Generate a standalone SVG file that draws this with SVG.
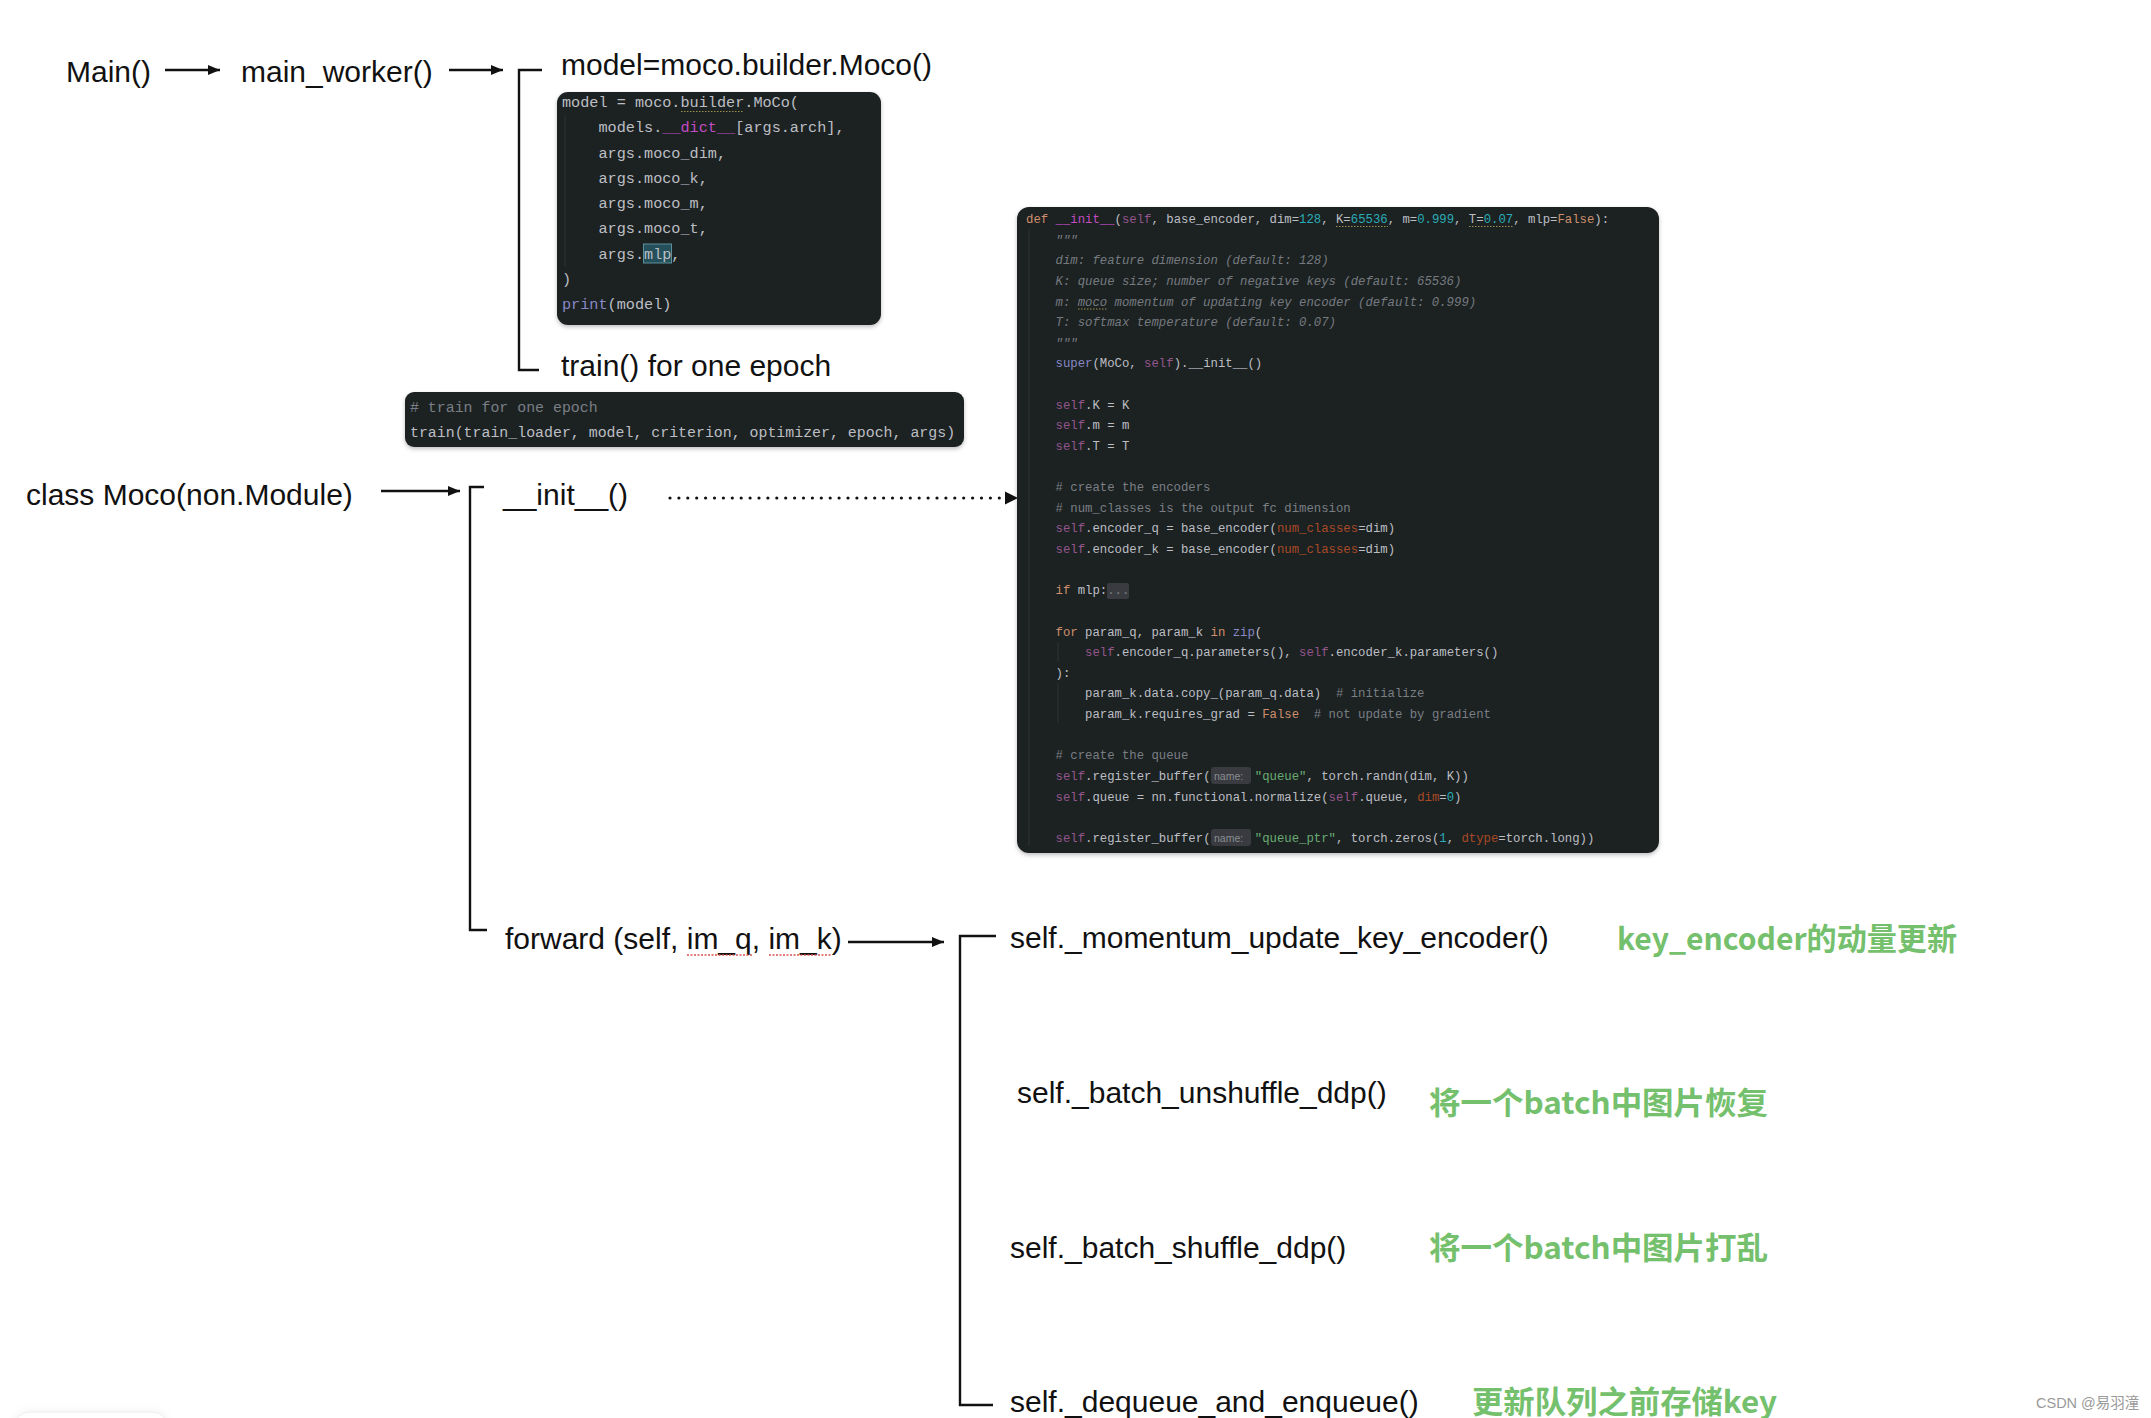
<svg xmlns="http://www.w3.org/2000/svg" width="2151" height="1418" viewBox="0 0 2151 1418">
  <style>
    .lbl { font-family: "Liberation Sans", Arial, sans-serif; font-size: 30px; fill: #111; }
    .cn { font-family: "Noto Sans CJK SC", "Liberation Sans", sans-serif; font-size: 31px; font-weight: 700; fill: #74c06d; }
    .code { font-family: "Liberation Mono", "DejaVu Sans Mono", monospace; fill: #bcbec4; white-space: pre; }
    .c1 { font-size: 15.2px; }
    .c2 { font-size: 14.9px; }
    .c3 { font-size: 12.3px; }
    .kw { fill: #cf8e6d; }
    .dun { fill: #c14cc1; }
    .slf { fill: #94558d; }
    .num { fill: #2aacb8; }
    .doc { fill: #767a80; font-style: italic; }
    .cmt { fill: #7a7e85; }
    .bi { fill: #8888c6; }
    .prm { fill: #aa4926; }
    .str { fill: #6aab73; }
    .box { fill: #1f2023; }
    .hint { fill: #393b40; }
    .hintt { font-family: "Liberation Sans", Arial, sans-serif; font-size: 10.5px; fill: #8a8d93; }
    .ln { stroke: #111; stroke-width: 2.6; fill: none; }
    .br { stroke: #111; stroke-width: 2.4; fill: none; }
    .guide { stroke: #2f3136; stroke-width: 1; }
    .wavy { stroke: #9a8f4e; stroke-width: 1; fill: none; stroke-dasharray: 1.5 1.5; }
    .red { stroke: #d9534f; stroke-width: 1.3; fill: none; stroke-dasharray: 2 1.5; }
  </style>
  <defs>
    <marker id="ah" viewBox="0 0 12 10" refX="12" refY="5" markerWidth="12" markerHeight="10" markerUnits="userSpaceOnUse" orient="auto">
      <path d="M0,0 L12,5 L0,10 z" fill="#111"/>
    </marker>
    <filter id="sh" x="-5%" y="-5%" width="110%" height="115%">
      <feDropShadow dx="0" dy="2" stdDeviation="2" flood-color="#000" flood-opacity="0.25"/>
    </filter>
    <filter id="soft" x="-20%" y="-50%" width="140%" height="200%">
      <feDropShadow dx="0" dy="0" stdDeviation="5" flood-color="#000" flood-opacity="0.06"/>
    </filter>
  </defs>

  <rect width="2151" height="1418" fill="#ffffff"/>

  <!-- connectors -->
  <g id="connectors">
    <line class="ln" x1="165" y1="70" x2="220" y2="70" marker-end="url(#ah)"/>
    <line class="ln" x1="449" y1="70" x2="503" y2="70" marker-end="url(#ah)"/>
    <path class="br" d="M542,70 H519 V370 H539"/>
    <line class="ln" x1="381" y1="491" x2="460" y2="491" marker-end="url(#ah)"/>
    <path class="br" d="M484,487 H470 V930 H487"/>
    <line x1="670" y1="498" x2="1005" y2="498" stroke="#111" stroke-width="3.2" stroke-linecap="round" stroke-dasharray="0 8.9"/>
    <path d="M1005,491.5 L1018,498 L1005,504.5 z" fill="#111"/>
    <line class="ln" x1="848" y1="942" x2="944" y2="942" marker-end="url(#ah)"/>
    <path class="br" d="M996,936 H960 V1405 H993"/>
  </g>

  <!-- nodes -->
  <g id="node-main"><text class="lbl" x="66" y="82">Main()</text></g>
  <g id="node-main-worker"><text class="lbl" x="241" y="82">main_worker()</text></g>
  <g id="node-model"><text class="lbl" x="561" y="75">model=moco.builder.Moco()</text></g>

  <g id="node-code-model" filter="url(#sh)">
    <rect class="box" x="557" y="92" width="324" height="233" rx="11"/>
  </g>
  <g id="code-model-text">
    <line class="guide" x1="565" y1="115" x2="565" y2="266"/>
    <rect x="643.5" y="244" width="28" height="19" fill="#25505b" stroke="#5b8f99" stroke-width="1"/>
    <path class="wavy" d="M681,111.5 H744"/>
    <text class="code c1" xml:space="preserve" x="562" y="107">model = moco.builder.MoCo(</text>
    <text class="code c1" xml:space="preserve" x="562" y="132.25">    models.<tspan class="dun">__dict__</tspan>[args.arch],</text>
    <text class="code c1" xml:space="preserve" x="562" y="157.5">    args.moco_dim,</text>
    <text class="code c1" xml:space="preserve" x="562" y="182.75">    args.moco_k,</text>
    <text class="code c1" xml:space="preserve" x="562" y="208">    args.moco_m,</text>
    <text class="code c1" xml:space="preserve" x="562" y="233.25">    args.moco_t,</text>
    <text class="code c1" xml:space="preserve" x="562" y="258.5">    args.mlp,</text>
    <text class="code c1" xml:space="preserve" x="562" y="283.75">)</text>
    <text class="code c1" xml:space="preserve" x="562" y="309"><tspan class="bi">print</tspan>(model)</text>
  </g>

  <g id="node-train"><text class="lbl" x="561" y="376">train() for one epoch</text></g>

  <g id="node-code-train" filter="url(#sh)">
    <rect class="box" x="405" y="392" width="559" height="55" rx="9"/>
  </g>
  <g id="code-train-text">
    <text class="code c2 cmt" xml:space="preserve" x="410" y="412"># train for one epoch</text>
    <text class="code c2" xml:space="preserve" x="410" y="437">train(train_loader, model, criterion, optimizer, epoch, args)</text>
  </g>

  <g id="node-class"><text class="lbl" x="26" y="505">class Moco(non.Module)</text></g>
  <g id="node-init"><text class="lbl" x="503" y="505">__init__()</text></g>

  <g id="node-code-init" filter="url(#sh)">
    <rect class="box" x="1017" y="207" width="642" height="646" rx="12"/>
  </g>
  <g id="code-init-text">
    <line class="guide" x1="1029" y1="229" x2="1029" y2="846"/>
    <line class="guide" x1="1058" y1="642" x2="1058" y2="662"/>
    <line class="guide" x1="1058" y1="683" x2="1058" y2="723"/>
    <path class="wavy" d="M1336,226.5 H1388 M1469,226.5 H1513 M1078,309 H1107"/>
    <rect class="hint" x="1107" y="583" width="22" height="16" rx="2"/>
    <rect class="hint" x="1211" y="767" width="40" height="17" rx="3"/>
    <rect class="hint" x="1211" y="829" width="40" height="17" rx="3"/>
    <text class="hintt" x="1214" y="779.5">name:</text>
    <text class="hintt" x="1214" y="841.5">name:</text>
    <text class="code c3" xml:space="preserve" x="1026" y="223"><tspan class="kw">def</tspan> <tspan class="dun">__init__</tspan>(<tspan class="slf">self</tspan>, base_encoder, dim=<tspan class="num">128</tspan>, K=<tspan class="num">65536</tspan>, m=<tspan class="num">0.999</tspan>, T=<tspan class="num">0.07</tspan>, mlp=<tspan class="kw">False</tspan>):</text>
    <text class="code c3 doc" xml:space="preserve" x="1026" y="243.63">    """</text>
    <text class="code c3 doc" xml:space="preserve" x="1026" y="264.26">    dim: feature dimension (default: 128)</text>
    <text class="code c3 doc" xml:space="preserve" x="1026" y="284.89">    K: queue size; number of negative keys (default: 65536)</text>
    <text class="code c3 doc" xml:space="preserve" x="1026" y="305.52">    m: moco momentum of updating key encoder (default: 0.999)</text>
    <text class="code c3 doc" xml:space="preserve" x="1026" y="326.15">    T: softmax temperature (default: 0.07)</text>
    <text class="code c3 doc" xml:space="preserve" x="1026" y="346.78">    """</text>
    <text class="code c3" xml:space="preserve" x="1026" y="367.41">    <tspan class="bi">super</tspan>(MoCo, <tspan class="slf">self</tspan>).__init__()</text>
    <text class="code c3" xml:space="preserve" x="1026" y="408.67">    <tspan class="slf">self</tspan>.K = K</text>
    <text class="code c3" xml:space="preserve" x="1026" y="429.3">    <tspan class="slf">self</tspan>.m = m</text>
    <text class="code c3" xml:space="preserve" x="1026" y="449.93">    <tspan class="slf">self</tspan>.T = T</text>
    <text class="code c3 cmt" xml:space="preserve" x="1026" y="491.19">    # create the encoders</text>
    <text class="code c3 cmt" xml:space="preserve" x="1026" y="511.82">    # num_classes is the output fc dimension</text>
    <text class="code c3" xml:space="preserve" x="1026" y="532.45">    <tspan class="slf">self</tspan>.encoder_q = base_encoder(<tspan class="prm">num_classes</tspan>=dim)</text>
    <text class="code c3" xml:space="preserve" x="1026" y="553.08">    <tspan class="slf">self</tspan>.encoder_k = base_encoder(<tspan class="prm">num_classes</tspan>=dim)</text>
    <text class="code c3" xml:space="preserve" x="1026" y="594.34">    <tspan class="kw">if</tspan> mlp:<tspan class="cmt">...</tspan></text>
    <text class="code c3" xml:space="preserve" x="1026" y="635.6">    <tspan class="kw">for</tspan> param_q, param_k <tspan class="kw">in</tspan> <tspan class="bi">zip</tspan>(</text>
    <text class="code c3" xml:space="preserve" x="1026" y="656.23">        <tspan class="slf">self</tspan>.encoder_q.parameters(), <tspan class="slf">self</tspan>.encoder_k.parameters()</text>
    <text class="code c3" xml:space="preserve" x="1026" y="676.86">    ):</text>
    <text class="code c3" xml:space="preserve" x="1026" y="697.49">        param_k.data.copy_(param_q.data)  <tspan class="cmt"># initialize</tspan></text>
    <text class="code c3" xml:space="preserve" x="1026" y="718.12">        param_k.requires_grad = <tspan class="kw">False</tspan>  <tspan class="cmt"># not update by gradient</tspan></text>
    <text class="code c3 cmt" xml:space="preserve" x="1026" y="759.38">    # create the queue</text>
    <text class="code c3" xml:space="preserve" x="1026" y="780.01">    <tspan class="slf">self</tspan>.register_buffer(</text>
    <text class="code c3" xml:space="preserve" x="1254.8" y="780.01"><tspan class="str">"queue"</tspan>, torch.randn(dim, K))</text>
    <text class="code c3" xml:space="preserve" x="1026" y="800.64">    <tspan class="slf">self</tspan>.queue = nn.functional.normalize(<tspan class="slf">self</tspan>.queue, <tspan class="prm">dim</tspan>=<tspan class="num">0</tspan>)</text>
    <text class="code c3" xml:space="preserve" x="1026" y="841.9">    <tspan class="slf">self</tspan>.register_buffer(</text>
    <text class="code c3" xml:space="preserve" x="1254.8" y="841.9"><tspan class="str">"queue_ptr"</tspan>, torch.zeros(<tspan class="num">1</tspan>, <tspan class="prm">dtype</tspan>=torch.long))</text>
  </g>

  <g id="node-forward">
    <text class="lbl" x="505" y="949">forward (self, im_q, im_k)</text>
    <path class="red" d="M687,955 H752 M769,955 H832"/>
  </g>

  <g id="node-momentum"><text class="lbl" x="1010" y="948">self._momentum_update_key_encoder()</text></g>
  <g id="note-momentum"><text class="cn" x="1617" y="950" textLength="340" lengthAdjust="spacingAndGlyphs">key_encoder的动量更新</text></g>

  <g id="node-unshuffle"><text class="lbl" x="1017" y="1103">self._batch_unshuffle_ddp()</text></g>
  <g id="note-unshuffle"><text class="cn" x="1429" y="1114" textLength="339" lengthAdjust="spacingAndGlyphs">将一个batch中图片恢复</text></g>

  <g id="node-shuffle"><text class="lbl" x="1010" y="1258">self._batch_shuffle_ddp()</text></g>
  <g id="note-shuffle"><text class="cn" x="1429" y="1259" textLength="339" lengthAdjust="spacingAndGlyphs">将一个batch中图片打乱</text></g>

  <g id="node-dequeue"><text class="lbl" x="1010" y="1412">self._dequeue_and_enqueue()</text></g>
  <g id="note-dequeue"><text class="cn" x="1472" y="1413" textLength="305" lengthAdjust="spacingAndGlyphs">更新队列之前存储key</text></g>

  <g id="corner-card" filter="url(#soft)">
    <rect x="15" y="1412" width="152" height="40" rx="14" fill="#ffffff" stroke="#ececec" stroke-width="1"/>
  </g>

  <g id="watermark">
    <text x="2036" y="1408" font-family="'Liberation Sans', 'Noto Sans CJK SC', sans-serif" font-size="14.5" fill="#9a9a9a">CSDN @易羽潼</text>
  </g>
</svg>
